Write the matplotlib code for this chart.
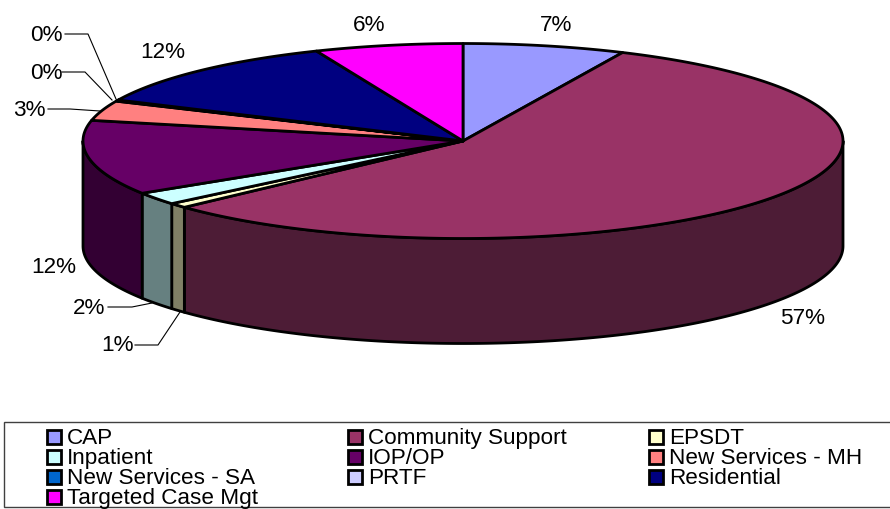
import numpy as np
import matplotlib
matplotlib.use("Agg")
import matplotlib.pyplot as plt
from matplotlib.patches import Polygon, Rectangle

categories = ["CAP", "Community Support", "EPSDT", "Inpatient", "IOP/OP",
              "New Services - MH", "New Services - SA", "PRTF", "Residential",
              "Targeted Case Mgt"]
values = [6.9, 56.2, 0.8, 2.1, 12.4, 3.3, 0.1, 0.1, 11.8, 6.3]
pct_labels = ["7%", "57%", "1%", "2%", "12%", "3%", "0%", "0%", "12%", "6%"]
colors = ["#9999FF", "#993366", "#FFFFCC", "#CCFFFF", "#660066",
          "#FF8080", "#0066CC", "#CCCCFF", "#000080", "#FF00FF"]
side_colors = ["#4D4D80", "#4D1C36", "#808066", "#668080", "#330033",
               "#804040", "#003366", "#666680", "#000040", "#800080"]

W, H = 890, 509
plt.rcParams["font.family"] = ["Liberation Sans", "DejaVu Sans"]
fig = plt.figure(figsize=(W / 100, H / 100), dpi=100)
ax = fig.add_axes([0, 0, 1, 1])
ax.set_xlim(0, W)
ax.set_ylim(H, 0)
ax.axis("off")

CX, CY, RX, RY, DEPTH = 463, 141, 380, 97.5, 105
EDGE = 2.0
FS = 16.2


def rim(a0, a1):
    t = np.radians(np.linspace(a0, a1, max(3, int(abs(a1 - a0) * 2))))
    return CX + RX * np.sin(t), CY - RY * np.cos(t)


ends = np.cumsum(values) / np.sum(values) * 360
starts = np.concatenate([[0], ends[:-1]])

# side walls: only the front half of the cylinder is visible
for a0, a1, sc in zip(starts, ends, side_colors):
    lo, hi = max(a0, 90), min(a1, 270)
    if lo >= hi:
        continue
    x, y = rim(lo, hi)
    pts = np.r_[np.c_[x, y], np.c_[x[::-1], y[::-1] + DEPTH]]
    ax.add_patch(Polygon(pts, closed=True, fc=sc, ec="black", lw=EDGE, joinstyle="round"))

# top faces
for a0, a1, c in zip(starts, ends, colors):
    x, y = rim(a0, a1)
    pts = np.r_[[[CX, CY]], np.c_[x, y]]
    ax.add_patch(Polygon(pts, closed=True, fc=c, ec="black", lw=EDGE, joinstyle="round"))

# percentage labels, in the order of the categories
label_pos = [(556, 24), (802, 317), (117, 344), (89, 307), (53, 266),
             (29, 109), (46, 72), (46, 34), (162, 51), (369, 24)]
for (lx, ly), s in zip(label_pos, pct_labels):
    ax.text(lx + 0.5, ly + 1.5, s, ha="center", va="center", fontsize=FS, color="black")

# leader lines
leaders = [
    [(65, 34), (88, 34), (116, 99)],
    [(62, 72), (85, 72), (112, 100)],
    [(48, 109), (70, 109), (100, 111)],
    [(108, 307), (132, 307), (152, 303)],
    [(135, 345), (158, 345), (180, 312)],
]
for seg in leaders:
    xs, ys = zip(*seg)
    ax.plot(xs, ys, color="black", lw=0.8, solid_joinstyle="miter")

# legend frame
ax.add_patch(Rectangle((4, 422), 900, 85, fc="white", ec="#404040", lw=1.0, clip_on=True))

col_x = [46.5, 347.5, 648.5]
row_y = [437, 457, 477, 497]
for i, (name, c) in enumerate(zip(categories, colors)):
    lx, ly = col_x[i % 3], row_y[i // 3]
    ax.add_patch(Rectangle((lx, ly - 7.5), 14.5, 14.5, fc=c, ec="black", lw=2.0))
    ax.text(lx + 20.5, ly + 1.5, name, ha="left", va="center", fontsize=FS, color="black")

fig.savefig("out.png", dpi=100)
